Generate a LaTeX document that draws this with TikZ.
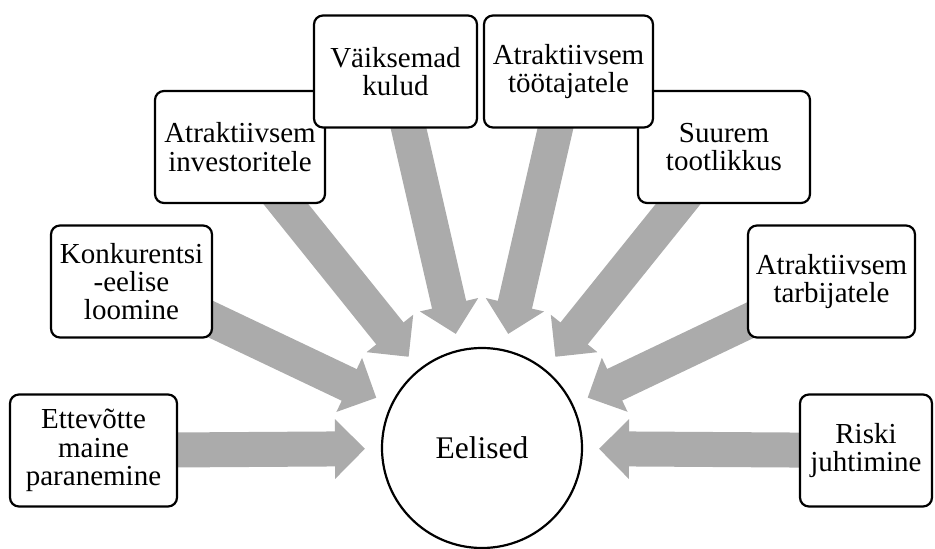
\documentclass[tikz,border=0pt]{standalone}
\usepackage{fontspec}
\setmainfont{Liberation Serif}
\usetikzlibrary{arrows.meta, backgrounds}
\definecolor{flowgray}{RGB}{171,171,171}

\begin{document}
\begin{tikzpicture}[x=1pt,y=1pt,
    benefit/.style={draw=black,line width=2.2pt,fill=white,rounded corners=9pt,
        minimum height=112pt,inner sep=2pt,align=center,
        font=\fontsize{29}{28.3}\selectfont},
    core/.style={draw=black,line width=2.2pt,fill=white,circle,
        minimum size=200pt,font=\fontsize{31.5}{34}\selectfont},
    flow/.style={draw=flowgray,line width=35pt,shorten >=117pt,
        -{Triangle[length=30pt,width=58pt]}}]
          \useasboundingbox(0,0)rectangle(935,549);
          \node[core](eel)at(482,101){Eelised};
          \node[benefit,minimum width=167pt](ett)at(93.5,98.5){Ettevõtte\\maine\\paranemine};
          \node[benefit,minimum width=161pt](kon)at(131.5,267.5){Konkurentsi\\-eelise\\loomine};
          \node[benefit,minimum width=170pt](inv)at(240,402){Atraktiivsem\\investoritele};
          \node[benefit,minimum width=172pt](suu)at(724,402){Suurem\\tootlikkus};
          \node[benefit,minimum width=163pt](kul)at(395.5,477.5){Väiksemad\\kulud};
          \node[benefit,minimum width=169pt](tot)at(568.5,477.5){Atraktiivsem\\töötajatele};
          \node[benefit,minimum width=167pt](tar)at(831.5,267.5){Atraktiivsem\\tarbijatele};
          \node[benefit,minimum width=132pt](ris)at(866,98.5){Riski\\juhtimine};
          % arrows run under the boxes
          \begin{scope}[on background layer]
            \foreach \b in {ett,kon,inv,kul,tot,suu,tar,ris}
              \draw[flow](\b.center)--(eel.center);
          \end{scope}
        \end{tikzpicture}
\end{document}
